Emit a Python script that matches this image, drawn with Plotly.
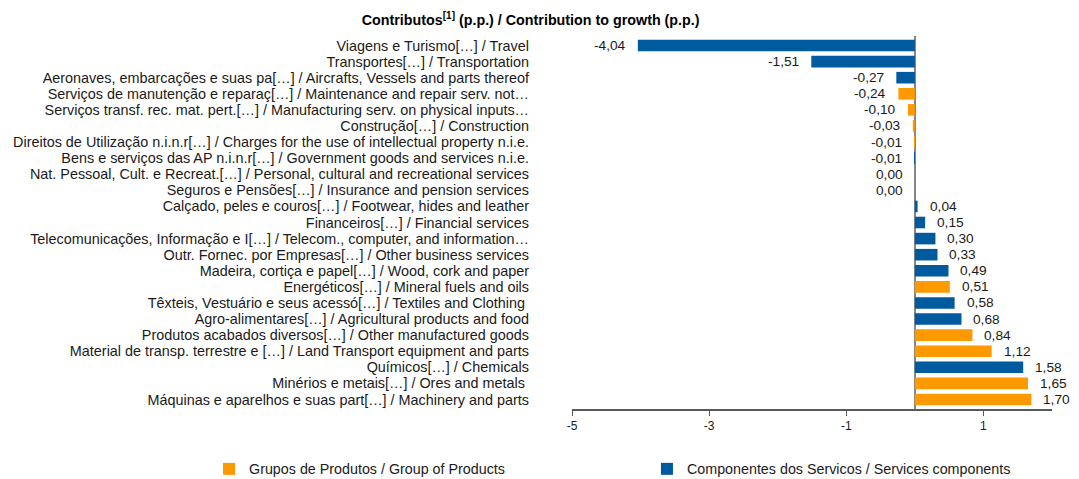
import plotly.graph_objects as go

categories = [
    "Viagens e Turismo[…] / Travel",
    "Transportes[…] / Transportation",
    "Aeronaves, embarcações e suas pa[…] / Aircrafts, Vessels and parts thereof",
    "Serviços de manutenção e reparaç[…] / Maintenance and repair serv. not…",
    "Serviços transf. rec. mat. pert.[…] / Manufacturing serv. on physical inputs…",
    "Construção[…] / Construction",
    "Direitos de Utilização n.i.n.r[…] / Charges for the use of intellectual property n.i.e.",
    "Bens e serviços das AP n.i.n.r[…] / Government goods and services n.i.e.",
    "Nat. Pessoal, Cult. e Recreat.[…] / Personal, cultural and recreational services",
    "Seguros e Pensões[…] / Insurance and pension services",
    "Calçado, peles e couros[…] / Footwear, hides and leather",
    "Financeiros[…] / Financial services",
    "Telecomunicações, Informação e I[…] / Telecom., computer, and information…",
    "Outr. Fornec. por Empresas[…] / Other business services",
    "Madeira, cortiça e papel[…] / Wood, cork and paper",
    "Energéticos[…] / Mineral fuels and oils",
    "Têxteis, Vestuário e seus acessó[…] / Textiles and Clothing ",
    "Agro-alimentares[…] / Agricultural products and food",
    "Produtos acabados diversos[…] / Other manufactured goods",
    "Material de transp. terrestre e […] / Land Transport equipment and parts",
    "Químicos[…] / Chemicals",
    "Minérios e metais[…] / Ores and metals ",
    "Máquinas e aparelhos e suas part[…] / Machinery and parts",
]
values = [-4.04, -1.51, -0.27, -0.24, -0.10, -0.03, -0.01, -0.01, 0.00, 0.00,
          0.04, 0.15, 0.30, 0.33, 0.49, 0.51, 0.58, 0.68, 0.84, 1.12, 1.58, 1.65, 1.70]
# group as coloured in the picture: "P" = orange (products), "S" = blue (services)
groups = ["S", "S", "S", "P", "P", "P", "P", "S", "P", "P",
          "S", "S", "S", "S", "S", "P", "S", "S", "P", "P", "S", "P", "P"]
tick_vals = [-5, -3, -1, 1]
tick_text = ["-5", "-3", "-1", "1"]

ORANGE = "#FF9900"
BLUE = "#005A9E"
FONT = "Arial, Liberation Sans, sans-serif"

fig = go.Figure()
for key, name, color, leg in [("P", "Grupos de Produtos / Group of Products", ORANGE, "legend"),
                              ("S", "Componentes dos Servicos / Services components", BLUE, "legend2")]:
    ys = [c for c, g in zip(categories, groups) if g == key]
    xs = [v for v, g in zip(values, groups) if g == key]
    fig.add_trace(go.Bar(x=xs, y=ys, orientation="h", name=name, legend=leg,
                         marker=dict(color=color, line=dict(width=0)),
                         width=0.72, hoverinfo="x+y"))

for c, v in zip(categories, values):
    txt = f"{v:.2f}".replace(".", ",")
    pos = v > 0
    fig.add_annotation(x=v, y=c, xref="x", yref="y", text=txt, showarrow=False,
                       xanchor="left" if pos else "right",
                       xshift=10 if pos else -10,
                       font=dict(size=13.7, color="#1a1a1a", family=FONT))

legend_common = dict(orientation="h", xref="container", yref="paper",
                     xanchor="left", y=-0.161, yanchor="middle",
                     font=dict(size=14.3, family=FONT, color="#1a1a1a"))

fig.update_layout(
    width=1071, height=471,
    margin=dict(l=564, r=27, t=28, b=70, autoexpand=False),
    paper_bgcolor="white", plot_bgcolor="white",
    barmode="overlay",
    font=dict(family=FONT, size=13, color="#1a1a1a"),
    title=dict(text="<b>Contributos<sup>[1]</sup> (p.p.) / Contribution to growth (p.p.)</b>",
               x=0.488, xanchor="center", y=0.975, yanchor="middle",
               font=dict(size=14.3, family=FONT, color="#000000")),
    showlegend=True,
    legend=dict(x=0.1877, **legend_common),
    legend2=dict(x=0.5966, **legend_common),
)
fig.update_xaxes(range=[-5, 2], tickvals=tick_vals, ticktext=tick_text,
                 showgrid=False, zeroline=True, zerolinecolor="#868686", zerolinewidth=2,
                 showline=True, linecolor="#595959", linewidth=1.5,
                 ticks="outside", ticklen=5, tickcolor="#595959", automargin=False,
                 tickfont=dict(size=12, family=FONT, color="#1a1a1a"))
fig.update_yaxes(categoryorder="array", categoryarray=categories, autorange="reversed",
                 tickmode="array", tickvals=categories,
                 showgrid=False, zeroline=False, showline=False, ticks="",
                 ticklabelstandoff=42, automargin=False,
                 tickfont=dict(size=14.4, family=FONT, color="#1a1a1a"))

fig.write_html("out.html")
